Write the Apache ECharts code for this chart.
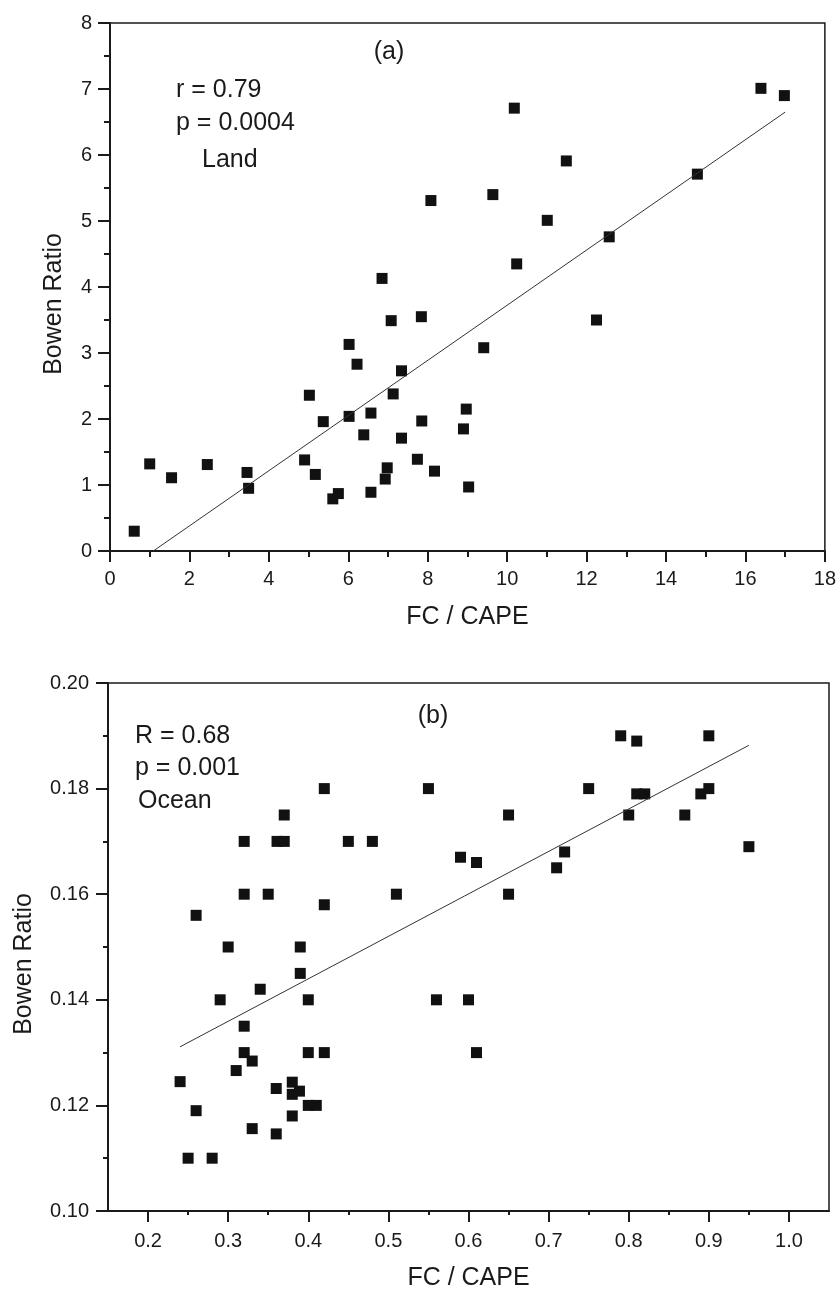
<!DOCTYPE html>
<html>
<head>
<meta charset="utf-8">
<script src="https://cdn.jsdelivr.net/npm/echarts@6/dist/echarts.min.js"></script>
<style>
html,body{margin:0;padding:0;background:#fff;}
#chart{width:839px;height:1292px;}
</style>
</head>
<body>
<div id="chart"></div>
<script>
// Panel (a) Land
const landX = [0.61,1.0,1.55,2.45,3.45,3.49,4.90,5.02,5.17,5.37,5.61,5.75,6.02,6.02,6.22,6.39,6.57,6.57,6.85,6.93,6.98,7.08,7.13,7.34,7.34,7.74,7.84,7.85,8.08,8.17,8.90,8.97,9.03,9.41,9.64,10.18,10.24,11.01,11.49,12.25,12.57,14.79,16.39,16.98];
const landY = [0.30,1.32,1.11,1.31,1.19,0.95,1.38,2.36,1.16,1.96,0.79,0.87,3.13,2.04,2.83,1.76,2.09,0.89,4.13,1.09,1.26,3.49,2.38,2.73,1.71,1.39,3.55,1.97,5.31,1.21,1.85,2.15,0.97,3.08,5.40,6.71,4.35,5.01,5.91,3.50,4.76,5.71,7.01,6.90];
const landFitX = [1.09, 17.0];
const landFitY = [0, 6.65];

// Panel (b) Ocean
const oceanX = [0.24,0.25,0.26,0.26,0.28,0.29,0.30,0.31,0.32,0.32,0.32,0.32,0.33,0.33,0.34,0.35,0.361,0.36,0.36,0.37,0.37,0.38,0.38,0.38,0.39,0.39,0.389,0.40,0.40,0.40,0.41,0.42,0.42,0.42,0.45,0.48,0.51,0.55,0.56,0.59,0.60,0.61,0.61,0.65,0.65,0.71,0.72,0.75,0.79,0.80,0.81,0.81,0.82,0.87,0.89,0.90,0.90,0.95];
const oceanY = [0.1245,0.110,0.156,0.119,0.110,0.140,0.150,0.1266,0.170,0.160,0.135,0.130,0.1284,0.1156,0.142,0.160,0.170,0.1232,0.1146,0.175,0.170,0.1244,0.1221,0.118,0.150,0.145,0.1227,0.140,0.130,0.120,0.120,0.180,0.158,0.130,0.170,0.170,0.160,0.180,0.140,0.167,0.140,0.166,0.130,0.175,0.160,0.165,0.168,0.180,0.190,0.175,0.189,0.179,0.179,0.175,0.179,0.190,0.180,0.169];
const oceanFitX = [0.24, 0.95];
const oceanFitY = [0.1311, 0.1882];

// Tick values
const oceanXTicks = [0.2,0.3,0.4,0.5,0.6,0.7,0.8,0.9,1.0];
const oceanXMinorTicks = [0.25,0.35,0.45,0.55,0.65,0.75,0.85,0.95];

// Texts
const xTitle = 'FC / CAPE';
const yTitle = 'Bowen Ratio';
const landNotes = ['r = 0.79', 'p = 0.0004', 'Land'];
const oceanNotes = ['R = 0.68', 'p = 0.001', 'Ocean'];

const FONT = "'Liberation Sans', Arial, sans-serif";
const INK = '#1a1a1a';

const zip = (xs, ys) => xs.map((x, i) => [x, ys[i]]);

const chart = echarts.init(document.getElementById('chart'), null, {renderer: 'canvas'});

const axisLine = {show: true, onZero: false, lineStyle: {color: INK, width: 2}};
const labelStyle = {color: INK, fontSize: 20, fontFamily: FONT};
const nameStyle = {color: INK, fontSize: 25, fontFamily: FONT};

const note = (x, y, text, align) => ({
  type: 'text',
  style: {x: x, y: y, text: text, font: '25px ' + FONT, fill: INK, textAlign: align || 'left', textVerticalAlign: 'middle'}
});

const option = {
  animation: false,
  backgroundColor: '#fff',
  grid: [
    {left: 110, top: 23, width: 718, height: 528, show: true, borderColor: INK, borderWidth: 1.5, backgroundColor: 'transparent'},
    {left: 108, top: 683, width: 721, height: 531, show: true, borderColor: INK, borderWidth: 1.5, backgroundColor: 'transparent'}
  ],
  xAxis: [
    {
      gridIndex: 0, type: 'value', min: 0, max: 18, interval: 2,
      axisLine: axisLine,
      axisTick: {show: true, length: 11, lineStyle: {color: INK, width: 2}},
      minorTick: {show: true, splitNumber: 2, length: 6, lineStyle: {color: INK, width: 2}},
      splitLine: {show: false},
      axisLabel: Object.assign({margin: 18}, labelStyle),
      name: xTitle, nameLocation: 'middle', nameGap: 54, nameTextStyle: nameStyle
    },
    {
      gridIndex: 1, type: 'value', min: 0.15, max: 1.05, position: 'bottom',
      axisLine: axisLine,
      axisTick: {show: true, length: 11, customValues: oceanXTicks, lineStyle: {color: INK, width: 2}},
      splitLine: {show: false},
      axisLabel: Object.assign({margin: 20, customValues: oceanXTicks, formatter: v => v.toFixed(1)}, labelStyle),
      name: xTitle, nameLocation: 'middle', nameGap: 55, nameTextStyle: nameStyle
    },
    {
      gridIndex: 1, type: 'value', min: 0.15, max: 1.05, position: 'bottom',
      axisLine: {show: false},
      axisTick: {show: true, length: 4, customValues: oceanXMinorTicks, lineStyle: {color: INK, width: 2}},
      splitLine: {show: false},
      axisLabel: {show: false}
    }
  ],
  yAxis: [
    {
      gridIndex: 0, type: 'value', min: 0, max: 8, interval: 1,
      axisLine: axisLine,
      axisTick: {show: true, length: 12, lineStyle: {color: INK, width: 2}},
      minorTick: {show: true, splitNumber: 2, length: 6, lineStyle: {color: INK, width: 2}},
      splitLine: {show: false},
      axisLabel: Object.assign({margin: 18}, labelStyle),
      name: yTitle, nameLocation: 'middle', nameGap: 43,
      nameTextStyle: Object.assign({padding: [0, 34, 0, 0]}, nameStyle)
    },
    {
      gridIndex: 1, type: 'value', min: 0.10, max: 0.20, interval: 0.02,
      axisLine: axisLine,
      axisTick: {show: true, length: 12, lineStyle: {color: INK, width: 2}},
      minorTick: {show: true, splitNumber: 2, length: 5, lineStyle: {color: INK, width: 2}},
      splitLine: {show: false},
      axisLabel: Object.assign({margin: 19, formatter: v => v.toFixed(2)}, labelStyle),
      name: yTitle, nameLocation: 'middle', nameGap: 71,
      nameTextStyle: Object.assign({padding: [0, 34, 0, 0]}, nameStyle)
    }
  ],
  series: [
    {
      type: 'line', xAxisIndex: 0, yAxisIndex: 0, data: zip(landFitX, landFitY),
      showSymbol: false, symbol: 'none', silent: true,
      lineStyle: {color: '#333', width: 1}
    },
    {
      type: 'scatter', xAxisIndex: 0, yAxisIndex: 0, data: zip(landX, landY),
      symbol: 'rect', symbolSize: 11, itemStyle: {color: '#111', opacity: 1}
    },
    {
      type: 'line', xAxisIndex: 1, yAxisIndex: 1, data: zip(oceanFitX, oceanFitY),
      showSymbol: false, symbol: 'none', silent: true,
      lineStyle: {color: '#333', width: 1}
    },
    {
      type: 'scatter', xAxisIndex: 1, yAxisIndex: 1, data: zip(oceanX, oceanY),
      symbol: 'rect', symbolSize: 11, itemStyle: {color: '#111', opacity: 1}
    }
  ],
  graphic: [
    note(389, 52, '(a)', 'center'),
    note(176, 90, landNotes[0]),
    note(176, 123, landNotes[1]),
    note(202, 160, landNotes[2]),
    note(433, 716, '(b)', 'center'),
    note(135, 736, oceanNotes[0]),
    note(135, 768, oceanNotes[1]),
    note(138, 801, oceanNotes[2])
  ]
};
chart.setOption(option);
</script>
</body>
</html>
